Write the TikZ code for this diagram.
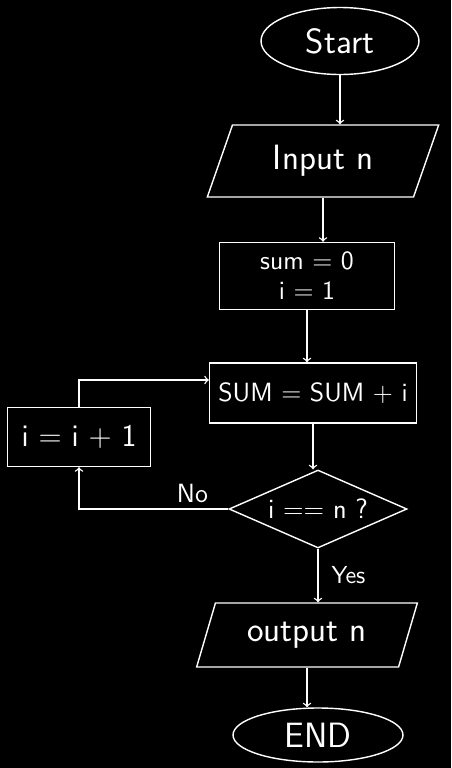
\documentclass[tikz,border=0pt]{standalone}
\usepackage{tikz}
\usetikzlibrary{shapes.geometric}

\tikzset{
  flow/.style={draw=white, thick, text=white, font=\sffamily\fontsize{20}{24}\selectfont},
  terminal/.style={flow, ellipse, inner sep=0pt},
  io/.style={flow, trapezium, trapezium stretches=true, trapezium left angle=66, trapezium right angle=114, inner sep=0pt},
  process/.style={flow, rectangle, inner sep=0pt, align=center},
  decision/.style={flow, diamond, aspect=2.3, inner sep=0pt},
  conn/.style={draw=white, thick, ->}
}

\begin{document}
\begin{tikzpicture}[x=0.02cm,y=-0.02cm]
	\fill[black] (0,0) rectangle (451,768);
	\useasboundingbox (0,0) rectangle (451,768);
	%\draw[step=50,color=gray] (0,0) grid (451,768);
	\node[terminal, minimum width=3.16cm, minimum height=1.34cm] (start) at (340,41) {Start};
	\node[io, minimum width=4.64cm, minimum height=1.44cm] (input) at (323,161) {Input n};
	\node[process, minimum width=3.5cm, minimum height=1.34cm, font=\sffamily\fontsize{15}{17}\selectfont] (init) at (307,276) {sum = 0\\i = 1};
	\node[process, minimum width=4.14cm, minimum height=1.2cm, font=\sffamily\fontsize{15}{18}\selectfont] (sum) at (313,393) {SUM = SUM + i};
	\node[process, minimum width=2.86cm, minimum height=1.18cm, font=\sffamily\fontsize{18}{20}\selectfont] (incr) at (79,437) {i = i + 1};
	\node[decision, minimum width=3.56cm, minimum height=1.56cm, font=\sffamily\fontsize{16}{18}\selectfont] (test) at (318,509) {i == n ?};
	\node[io, minimum width=4.42cm, minimum height=1.28cm, trapezium left angle=65, trapezium right angle=115] (output) at (307,635) {output n};
	\node[terminal, minimum width=3.4cm, minimum height=1.08cm] (end) at (318,735) {END};

	\draw[conn] (start.south) -- (start.south |- input.north);
	\draw[conn] (input.south) -- (input.south |- init.north);
	\draw[conn] (init.south) -- (init.south |- sum.north);
	\draw[conn] (sum.south) -- (sum.south |- test.north);
	\draw[conn] (test.south) -- (test.south |- output.north)
		node[midway, right=4pt, text=white, font=\sffamily\fontsize{14}{16}\selectfont] {Yes};
	\draw[conn] (output.south) -- (output.south |- end.north);
	\draw[conn] (test.west) -| (incr.south)
		node[pos=0.12, above, text=white, font=\sffamily\fontsize{15}{17}\selectfont] {No};
	\draw[conn] (incr.north) |- ([yshift=0.26cm]sum.west);
\end{tikzpicture}
\end{document}
